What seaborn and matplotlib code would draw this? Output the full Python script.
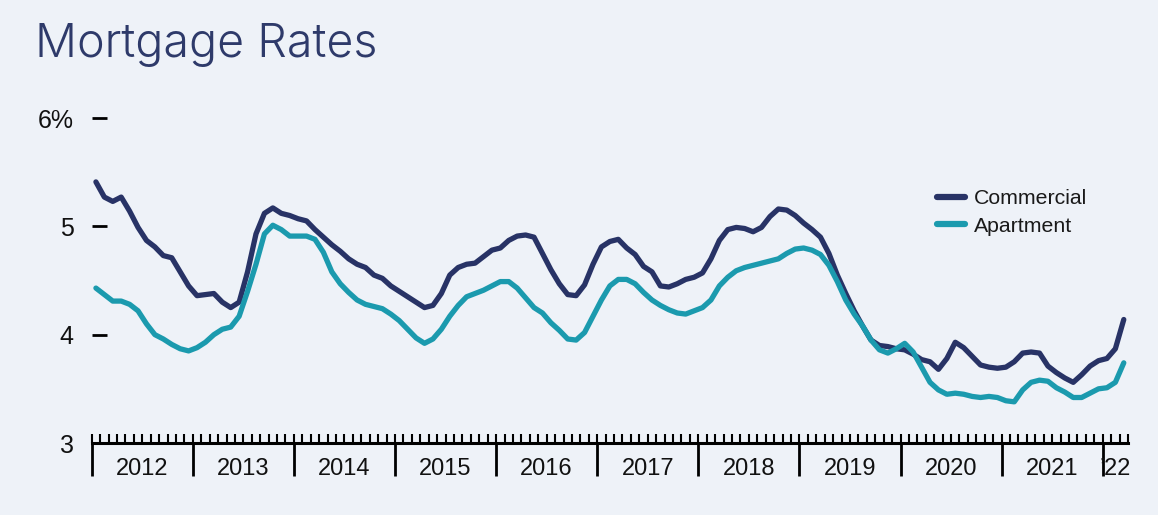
import numpy as np
import pandas as pd
import matplotlib
matplotlib.use("Agg")
import matplotlib.pyplot as plt
from matplotlib.ticker import FixedLocator, NullFormatter
import seaborn as sns

# monthly rates, Jan 2012 - Mar 2022
commercial = [
    5.41, 5.27, 5.23, 5.27, 5.14, 4.99, 4.87, 4.81, 4.73, 4.71, 4.58, 4.45,  # 2012
    4.36, 4.37, 4.38, 4.30, 4.25, 4.30, 4.58, 4.93, 5.12, 5.17, 5.12, 5.10,  # 2013
    5.07, 5.05, 4.97, 4.90, 4.83, 4.77, 4.70, 4.65, 4.62, 4.55, 4.52, 4.45,  # 2014
    4.40, 4.35, 4.30, 4.25, 4.27, 4.38, 4.55, 4.62, 4.65, 4.66, 4.72, 4.78,  # 2015
    4.80, 4.87, 4.91, 4.92, 4.90, 4.75, 4.60, 4.47, 4.37, 4.36, 4.46, 4.65,  # 2016
    4.81, 4.86, 4.88, 4.80, 4.74, 4.63, 4.58, 4.45, 4.44, 4.47, 4.51, 4.53,  # 2017
    4.57, 4.70, 4.87, 4.97, 4.99, 4.98, 4.95, 4.99, 5.09, 5.16, 5.15, 5.10,  # 2018
    5.03, 4.97, 4.90, 4.75, 4.55, 4.38, 4.22, 4.08, 3.95, 3.90, 3.89, 3.87,  # 2019
    3.86, 3.82, 3.77, 3.75, 3.68, 3.78, 3.93, 3.88, 3.80, 3.72, 3.70, 3.69,  # 2020
    3.70, 3.75, 3.83, 3.84, 3.83, 3.71, 3.65, 3.60, 3.56, 3.63, 3.71, 3.76,  # 2021
    3.78, 3.87, 4.14,                                                        # 2022
]
apartment = [
    4.43, 4.37, 4.31, 4.31, 4.28, 4.22, 4.10, 4.00, 3.96, 3.91, 3.87, 3.85,  # 2012
    3.88, 3.93, 4.00, 4.05, 4.07, 4.17, 4.40, 4.65, 4.93, 5.01, 4.97, 4.91,  # 2013
    4.91, 4.91, 4.88, 4.76, 4.58, 4.47, 4.39, 4.32, 4.28, 4.26, 4.24, 4.19,  # 2014
    4.13, 4.05, 3.97, 3.92, 3.96, 4.05, 4.17, 4.27, 4.35, 4.38, 4.41, 4.45,  # 2015
    4.49, 4.49, 4.43, 4.34, 4.25, 4.20, 4.11, 4.04, 3.96, 3.95, 4.02, 4.17,  # 2016
    4.32, 4.45, 4.51, 4.51, 4.47, 4.39, 4.32, 4.27, 4.23, 4.20, 4.19, 4.22,  # 2017
    4.25, 4.32, 4.45, 4.53, 4.59, 4.62, 4.64, 4.66, 4.68, 4.70, 4.75, 4.79,  # 2018
    4.80, 4.78, 4.74, 4.64, 4.49, 4.32, 4.19, 4.08, 3.95, 3.86, 3.83, 3.87,  # 2019
    3.92, 3.84, 3.70, 3.56, 3.49, 3.45, 3.46, 3.45, 3.43, 3.42, 3.43, 3.42,  # 2020
    3.39, 3.38, 3.49, 3.56, 3.58, 3.57, 3.51, 3.47, 3.42, 3.42, 3.46, 3.50,  # 2021
    3.51, 3.56, 3.74,                                                        # 2022
]
years = list(range(2012, 2023))
year_labels = ["2012", "2013", "2014", "2015", "2016", "2017", "2018",
               "2019", "2020", "2021", "\u201922"]
y_ticks = [3, 4, 5, 6]
y_labels = ["3", "4", "5", "6%"]

n = len(commercial)
month_pos = [2012 + (i + 0.5) / 12 for i in range(n)]
df = pd.DataFrame({
    "date": month_pos * 2,
    "rate": commercial + apartment,
    "series": ["Commercial"] * n + ["Apartment"] * n,
})

bg = "#EEF2F8"
navy = "#283366"
teal = "#1B9AAE"

sns.set_theme(style="white")
plt.rcParams["font.family"] = ["Liberation Sans", "DejaVu Sans"]

fig = plt.figure(figsize=(11.58, 5.15), dpi=100, facecolor=bg)
ax = fig.add_axes([91.7 / 1158, 72 / 515, (1128 - 91.7) / 1158, 325 / 515])
ax.set_facecolor(bg)

sns.lineplot(data=df, x="date", y="rate", hue="series",
             palette={"Commercial": navy, "Apartment": teal},
             linewidth=3.8, ax=ax)

x_end = 2022 + 3 / 12
ax.set_xlim(2012, x_end)
ax.set_ylim(3, 6)

for side in ["top", "right", "left"]:
    ax.spines[side].set_visible(False)
ax.spines["bottom"].set_linewidth(2.2)
ax.spines["bottom"].set_color("black")

# x axis: year separators down, month ticks up
ax.xaxis.set_major_locator(FixedLocator(years))
ax.xaxis.set_minor_locator(FixedLocator([2012 + m / 12 for m in range(12 * 10 + 4)]))
ax.xaxis.remove_overlapping_locs = False
ax.xaxis.set_major_formatter(NullFormatter())
ax.tick_params(axis="x", which="major", bottom=True, direction="out",
               length=24, width=2, color="black")
ax.tick_params(axis="x", which="minor", bottom=True, direction="in",
               length=6.5, width=1.5, color="black")
for yr, lab in zip(years, year_labels):
    centre = (yr + min(yr + 1, x_end)) / 2
    ax.text(centre, -0.08, lab, transform=ax.get_xaxis_transform(),
            ha="center", va="center", fontsize=17, color="#111111")

# y axis: short dashes to the right of the labels
ax.set_yticks(y_ticks)
ax.set_yticklabels(y_labels)
ax.tick_params(axis="y", left=True, direction="in", length=11, width=2,
               color="black", pad=13, labelsize=18, labelcolor="#111111")
ax.set_xlabel("")
ax.set_ylabel("")
ax.grid(False)

leg = ax.legend(loc="upper left", bbox_to_anchor=(918 / 1158, 1 - 170 / 515),
                bbox_transform=fig.transFigure, frameon=False, fontsize=15.3,
                handlelength=1.3, handletextpad=0.45, labelspacing=0.4)
for line in leg.get_lines():
    line.set_linewidth(4.5)
for t in leg.get_texts():
    t.set_color("#1a1a1a")

fig.text(35 / 1158, 1 - 57 / 515, "Mortgage Rates", fontsize=33.5, color="#2E3A6A",
         family=["Inter", "DejaVu Sans"], fontweight=300, ha="left", va="baseline")

fig.savefig("out.png", dpi=100, facecolor=bg)
